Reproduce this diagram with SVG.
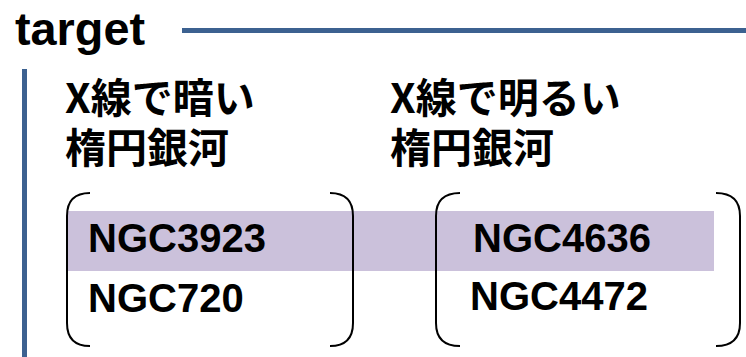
<svg xmlns="http://www.w3.org/2000/svg" width="746" height="357" viewBox="0 0 746 357">
<style>
.rule{stroke:#3C6190;stroke-width:5;fill:none}
.jp{font-family:"Noto Sans CJK JP",sans-serif;font-weight:bold;font-size:41px;fill:#000}
.ngc{font-family:"Liberation Sans",Arial,sans-serif;font-weight:bold;font-size:40px;fill:#000}
.br{stroke:#000;stroke-width:2;fill:none}
</style>
<rect width="746" height="357" fill="#fff"/>
<g id="title">
<text x="15" y="45" font-family="Liberation Sans,Arial,sans-serif" font-weight="bold" font-size="46" textLength="130" lengthAdjust="spacingAndGlyphs">target</text>
<line class="rule" x1="182" y1="30.5" x2="746" y2="30.5"/>
<line class="rule" x1="24.5" y1="69" x2="24.5" y2="357"/>
</g>
<rect id="band" x="68" y="211" width="646" height="60" fill="#CBC1DB"/>
<g id="dark">
<text class="jp" x="65" y="113">X線で暗い</text>
<text class="jp" x="65" y="163">楕円銀河</text>
<path class="br" d="M90,193 Q67,193 67,216 L67,323 Q67,346 90,346"/>
<path class="br" d="M330,193 Q353,193 353,216 L353,323 Q353,346 330,346"/>
<text class="ngc" x="88" y="252">NGC3923</text>
<text class="ngc" x="88" y="312">NGC720</text>
</g>
<g id="bright">
<text class="jp" x="390" y="113">X線で明るい</text>
<text class="jp" x="390" y="163">楕円銀河</text>
<path class="br" d="M460,193 Q436,193 436,216 L436,323 Q436,346 460,346"/>
<path class="br" d="M716,193 Q740,193 740,216 L740,323 Q740,346 716,346"/>
<text class="ngc" x="473" y="252">NGC4636</text>
<text class="ngc" x="470" y="310">NGC4472</text>
</g>
</svg>
